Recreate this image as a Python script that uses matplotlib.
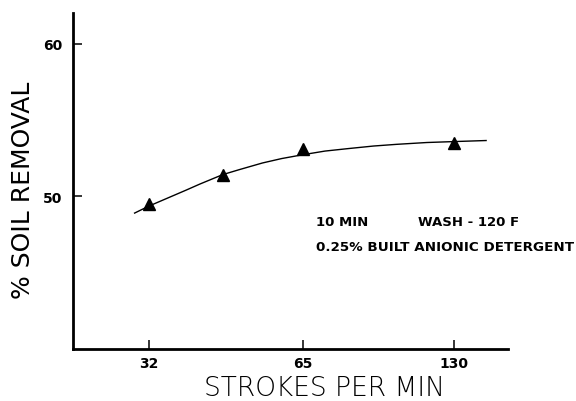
import matplotlib
matplotlib.use("Agg")
import matplotlib.pyplot as plt
from matplotlib.ticker import FixedLocator, FixedFormatter, NullLocator

# measured points (triangles)
strokes = [32, 45, 65, 130]
removal = [49.5, 51.4, 53.1, 53.5]

# hand-drawn smooth curve, read along its length
curve_strokes = [30, 32, 34, 38, 40.5, 45, 48.5, 54, 59, 65, 72, 80, 90, 100, 115, 130, 151]
curve_removal = [48.9, 49.35, 49.72, 50.4, 50.8, 51.42, 51.74, 52.18, 52.47, 52.72,
                 52.96, 53.12, 53.29, 53.4, 53.52, 53.58, 53.65]

x_ticks = [32, 65, 130]
x_tick_labels = ["32", "65", "130"]
y_ticks = [50, 60]
y_tick_labels = ["50", "60"]

fig = plt.figure(figsize=(5.76, 4.02), dpi=100)
ax = fig.add_axes([73 / 576, 52 / 402, 435 / 576, 336 / 402])

ax.plot(curve_strokes, curve_removal, color="black", lw=1.0)
ax.plot(strokes, removal, "^", color="black", markersize=8.5, lw=0)

ax.set_xscale("log")
ax.set_xlim(22.6, 167)
ax.set_ylim(40, 62)

ax.xaxis.set_major_locator(FixedLocator(x_ticks))
ax.xaxis.set_major_formatter(FixedFormatter(x_tick_labels))
ax.xaxis.set_minor_locator(NullLocator())
ax.yaxis.set_major_locator(FixedLocator(y_ticks))
ax.yaxis.set_major_formatter(FixedFormatter(y_tick_labels))

for side in ["top", "right"]:
    ax.spines[side].set_visible(False)
for side in ["left", "bottom"]:
    ax.spines[side].set_linewidth(2.0)

ax.tick_params(axis="both", direction="in", length=6.5, width=1.1, labelsize=10)
ax.tick_params(axis="x", pad=5)
ax.tick_params(axis="y", pad=8)
for lbl in ax.get_xticklabels() + ax.get_yticklabels():
    lbl.set_fontweight("bold")

ax.set_ylabel("% SOIL REMOVAL", fontsize=18, va="center")
ax.yaxis.set_label_coords(-0.115, 0.476)
ax.set_xlabel("STROKES PER MIN", fontsize=19, fontweight="light", va="center")
ax.xaxis.set_label_coords(0.578, -0.116)

ax.text(0.5586, 0.378, "10 MIN", transform=ax.transAxes, fontsize=9.5,
        fontweight="bold", va="center", ha="left")
ax.text(0.793, 0.378, "WASH - 120 F", transform=ax.transAxes, fontsize=9.5,
        fontweight="bold", va="center", ha="left")
ax.text(0.5586, 0.3065, "0.25% BUILT ANIONIC DETERGENT", transform=ax.transAxes,
        fontsize=9.7, fontweight="bold", va="center", ha="left", clip_on=False)

fig.savefig("out.png", dpi=100)
